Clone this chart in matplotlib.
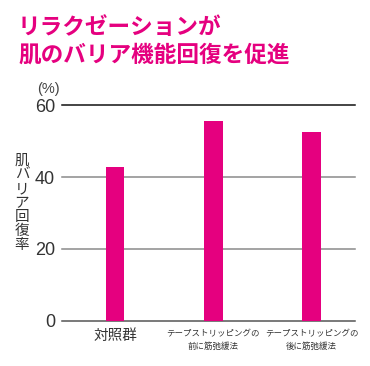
import matplotlib.pyplot as plt

plt.rcParams['font.family'] = ['Noto Sans CJK JP', 'DejaVu Sans']

# data
categories = ["対照群", "テープストリッピングの\n前に筋弛緩法", "テープストリッピングの\n後に筋弛緩法"]
recovery = [42.8, 55.7, 52.7]
yticks = [0, 20, 40, 60]
title_lines = ["リラクゼーションが", "肌のバリア機能回復を促進"]
ylabel = "肌バリア回復率"

pink = "#E5007F"

fig = plt.figure(figsize=(3.7, 3.66), dpi=100)
ax = fig.add_axes([62 / 370, 45.3 / 366, 293 / 370, 215.4 / 366])

x = range(len(categories))
ax.bar(x, recovery, width=0.19, color=pink, zorder=3)

ax.set_xlim(-0.54, 2.44)
ax.set_ylim(0, 60)

# horizontal rules: top one black, middle ones grey
for v in yticks:
    if v == 60:
        c = "#111111"
    elif v == 0:
        c = "#555555"
    else:
        c = "#8a8a8a"
    ax.axhline(v, color=c, lw=1.1, zorder=2, clip_on=False)

for s in ax.spines.values():
    s.set_visible(False)

ax.set_yticks(yticks)
ax.set_yticklabels([str(v) for v in yticks], fontsize=13, color="#333333",
                   family=['Liberation Sans', 'DejaVu Sans'])
ax.tick_params(axis='y', length=0, pad=5)

ax.set_xticks(list(x))
ax.set_xticklabels(categories, color="#333333", linespacing=1.5)
ax.tick_params(axis='x', length=0, pad=6)
for i, lab in enumerate(ax.get_xticklabels()):
    lab.set_fontsize(10.5 if i == 0 else 6.1)
    lab.set_verticalalignment('top')

# (%) unit and stacked vertical y label
fig.text(48 / 370, 1 - 89 / 366, "(%)", fontsize=10.5, color="#444444",
         ha='center', va='center', family=['Liberation Sans', 'DejaVu Sans'])
fig.text(22 / 370, 1 - 203 / 366, "\n".join(ylabel), fontsize=10.5,
         color="#333333", ha='center', va='center', linespacing=1.0)

# title
fig.text(18 / 370, 1 - 27 / 366, title_lines[0], fontsize=16.3, color=pink,
         fontweight='bold', ha='left', va='center')
fig.text(18 / 370, 1 - 55 / 366, title_lines[1], fontsize=16.3, color=pink,
         fontweight='bold', ha='left', va='center')

fig.savefig("out.png", dpi=100)
